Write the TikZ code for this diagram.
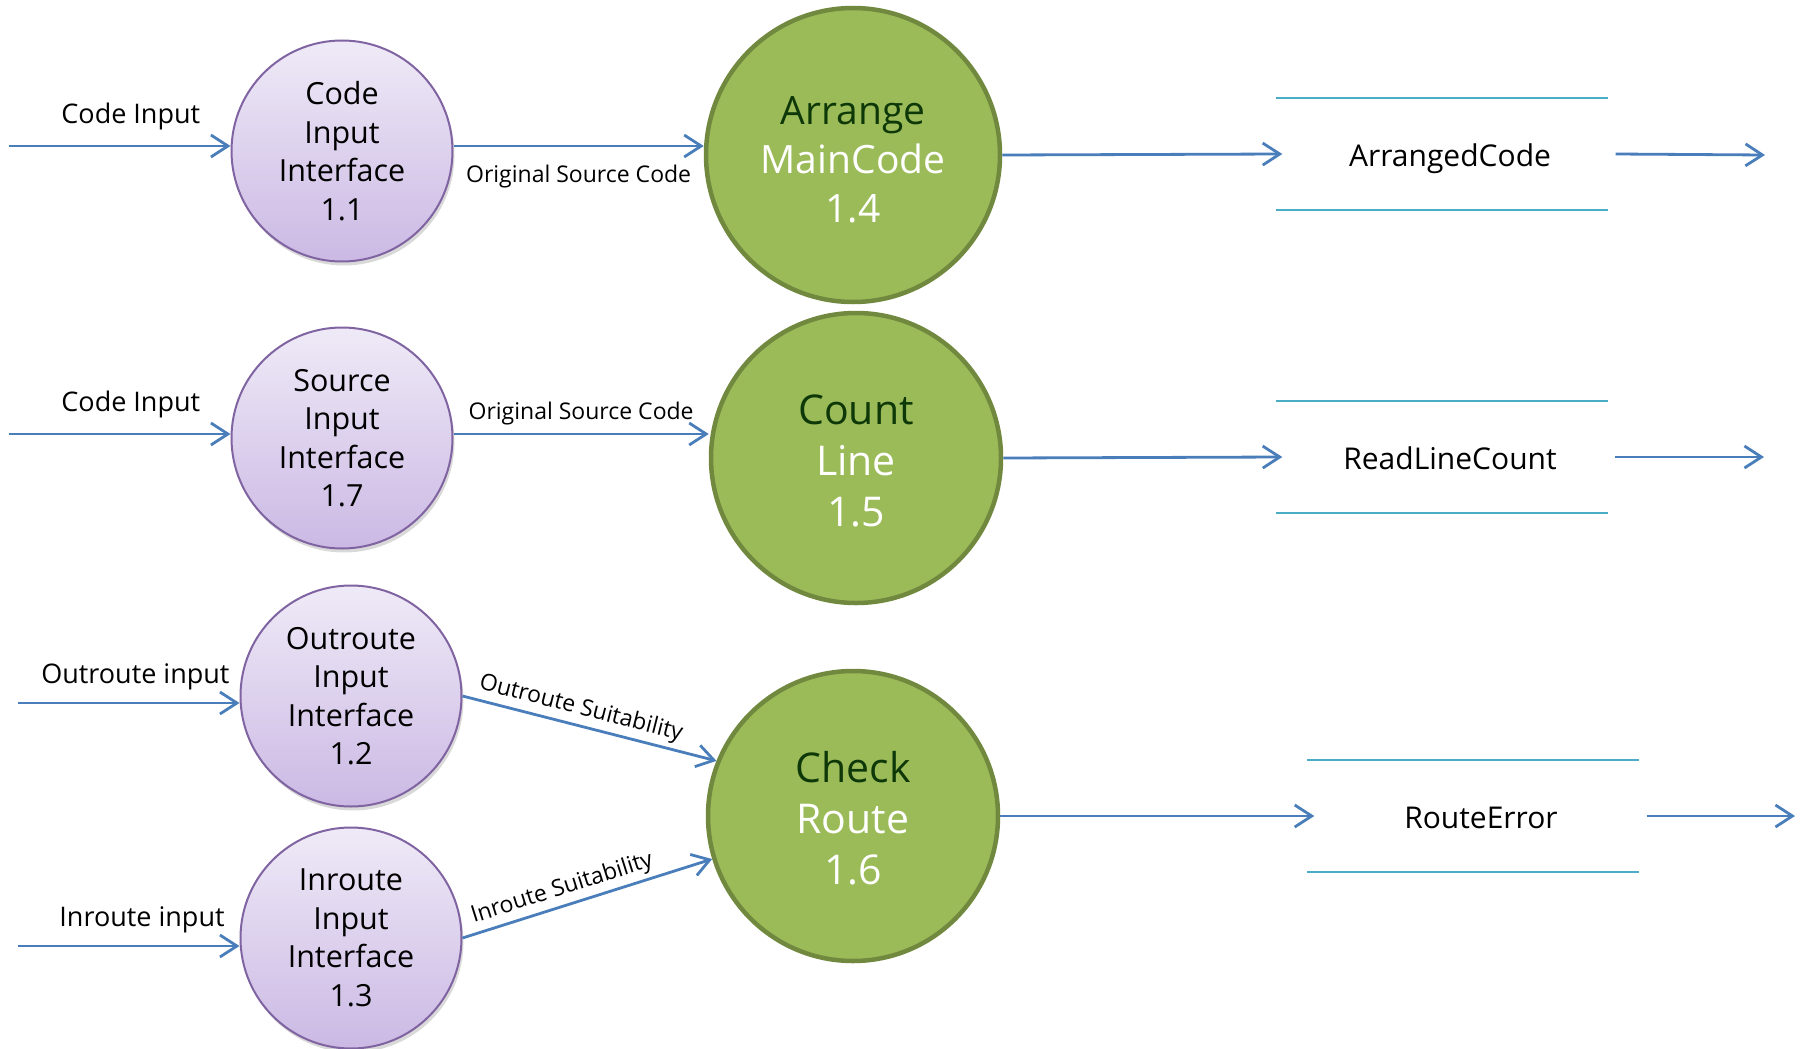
\documentclass[tikz,border=0pt]{standalone}
\usepackage{fontspec}
\setmainfont{Open Sans}
\usetikzlibrary{arrows.meta,shadows}

\definecolor{flowblue}{RGB}{74,126,187}
\definecolor{storeline}{RGB}{75,172,198}
\definecolor{purpedge}{RGB}{128,100,162}
\definecolor{purptop}{RGB}{239,234,247}
\definecolor{purpbot}{RGB}{203,185,228}
\definecolor{procgreen}{RGB}{155,187,89}
\definecolor{greenedge}{RGB}{113,137,63}
\definecolor{greentext}{RGB}{14,56,8}

\begin{document}
\begin{tikzpicture}[x=1pt,y=-1pt,
  iface/.style={circle, draw=purpedge, line width=2pt,
    top color=purptop, bottom color=purpbot,
    minimum size=221pt, inner sep=0pt, align=center,
    font=\fontsize{30.5}{38.5}\selectfont,
    drop shadow={opacity=0.3, shadow xshift=2pt, shadow yshift=-4pt}},
  proc/.style={circle, draw=greenedge, line width=4.5pt, fill=procgreen,
    minimum size=290pt, inner sep=0pt, align=center, text=white},
  store/.style={minimum width=331pt, minimum height=111pt, inner sep=0pt,
    text height=28pt, text depth=4pt,
    font=\fontsize{30}{36}\selectfont},
  storelines/.style={draw=storeline, line width=2pt},
  flow/.style={draw=flowblue, line width=2.8pt,
    -{Straight Barb[length=17pt, width=22pt, line width=2.8pt]}},
  lbl/.style={font=\fontsize{27}{32}\selectfont, inner sep=2pt},
  slbl/.style={font=\fontsize{23}{28}\selectfont, inner sep=3pt}
]
\useasboundingbox (0,0) rectangle (1804,1049);

% interface processes
\node[iface] (c11) at (342,151) {Code\\Input\\Interface\\1.1};
\node[iface] (c17) at (342,438) {Source\\Input\\Interface\\1.7};
\node[iface] (c12) at (351,696) {Outroute\\Input\\Interface\\1.2};
\node[iface] (c13) at (351,938) {Inroute\\Input\\Interface\\1.3};

% main processes (the struts set the first line a little lower)
\node[proc, minimum size=294pt, font=\fontsize{39}{49}\selectfont] (c14) at (853,155)
  {\rule{0pt}{38pt}\textcolor{greentext}{Arrange}\\MainCode\\1.4};
\node[proc, font=\fontsize{41}{51}\selectfont] (c15) at (856,458)
  {\rule{0pt}{35pt}\textcolor{greentext}{Count}\\Line\\1.5};
\node[proc, font=\fontsize{41}{51}\selectfont] (c16) at (853,816)
  {\rule{0pt}{35pt}\textcolor{greentext}{Check}\\Route\\1.6};

% data stores
\node[store] (s14) at (1442,154) {\hspace*{16pt}ArrangedCode};
\node[store] (s15) at (1442,457) {\hspace*{16pt}ReadLineCount};
\node[store] (s16) at (1473,816) {\hspace*{16pt}RouteError};
\foreach \s in {s14,s15,s16}
  \draw[storelines] (\s.north west) -- (\s.north east)
                    (\s.south west) -- (\s.south east);

% free ends of the flows
\coordinate (i1) at (9,146);
\coordinate (i2) at (9,434);
\coordinate (i3) at (18,703);
\coordinate (i4) at (18,946);
\coordinate (o1) at (1765,155);
\coordinate (o2) at (1764,457);
\coordinate (o3) at (1795,816);

% inputs
\draw[flow] (i1) -- (i1 -| c11.west) node[lbl, pos=0.55, above=13pt] {Code Input};
\draw[flow] (i2) -- (i2 -| c17.west) node[lbl, pos=0.55, above=13pt] {Code Input};
\draw[flow] (i3) -- (i3 -| c12.west) node[lbl, pos=0.53, above=10pt] {Outroute input};
\draw[flow] (i4) -- (i4 -| c13.west) node[lbl, pos=0.56, above=10pt] {Inroute input};

% interfaces to processes
\draw[flow] (c11.east |- i1) -- (i1 -| c14.west)
  node[slbl, midway, below=15pt] {Original Source Code};
\draw[flow] (c17.east |- i2) -- (i2 -| c15.west)
  node[slbl, midway, above=5pt] {Original Source Code};
\draw[flow] (c12.east) -- (c16.158)
  node[slbl, pos=0.45, sloped, above=1pt] {Outroute Suitability};
\draw[flow] (c13.east) -- (c16.197)
  node[slbl, pos=0.42, sloped, above=1pt] {Inroute Suitability};

% processes to stores, stores onward
\draw[flow] (c14.east) -- ([xshift=6pt]s14.west);
\draw[flow] (c15.east) -- ([xshift=6pt]s15.west);
\draw[flow] (c16.east) -- ([xshift=7pt]s16.west);
\draw[flow] ([xshift=8pt]s14.east) -- (o1);
\draw[flow] ([xshift=7pt]s15.east) -- (o2);
\draw[flow] ([xshift=8pt]s16.east) -- (o3);
\end{tikzpicture}
\end{document}
